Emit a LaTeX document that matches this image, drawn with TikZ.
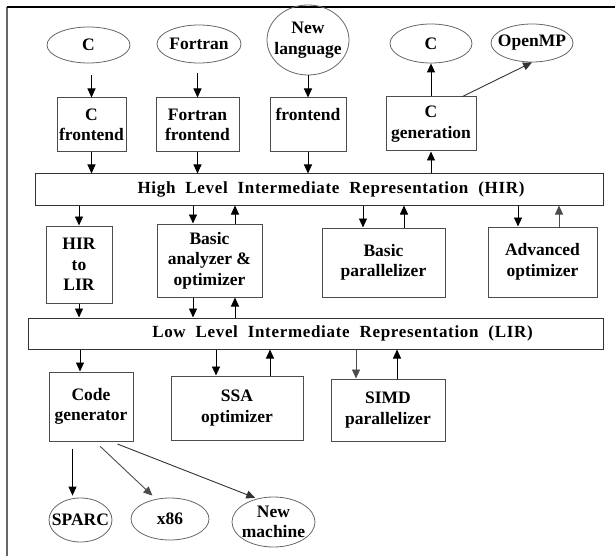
\documentclass[tikz,border=0pt]{standalone}
\usepackage{fontspec}
\setmainfont{Liberation Serif}
\newfontfamily\barfont[LetterSpace=4,WordSpace=2]{Liberation Serif}
\usetikzlibrary{arrows.meta,shapes.geometric}

\tikzset{
    box/.style={draw=black!70, line width=1pt, align=center, inner sep=0pt},
    lang/.style={draw=black!60, line width=0.8pt, ellipse, inner sep=0pt},
    bar/.style={draw=black!80, line width=1pt, inner sep=0pt, minimum height=31pt},
    bartext/.style={font=\barfont\bfseries\fontsize{17}{20}\selectfont},
    arr/.style={-{Triangle[length=9pt,width=8pt]}, line width=0.9pt},
}

\begin{document}
\begin{tikzpicture}[x=1pt, y=-1pt, font=\fontsize{17.5}{20.5}\selectfont\bfseries]
    \useasboundingbox (0,0) rectangle (615,556);
    % page frame
    \draw[black!60, line width=1.2pt] (7,556) -- (7,7);
    \draw[line width=1.2pt] (7,7) -- (615,7);

    % source languages and generated output
    \node[lang, minimum width=83pt, minimum height=36pt, label=center:C] (lc) at (88.5,45) {};
    \node[lang, minimum width=84pt, minimum height=38pt, label=center:Fortran] (lf) at (199,44) {};
    \node[lang, minimum width=82pt, minimum height=70pt, label={[align=center]center:New\\language}] (lnew) at (308,40) {};
    \node[lang, minimum width=82pt, minimum height=39pt, label=center:C] (outc) at (431,43.5) {};
    \node[lang, minimum width=82pt, minimum height=38pt, label=center:OpenMP] (omp) at (532,43) {};

    % frontends
    \node[box, minimum width=69pt, minimum height=54pt] (cfront) at (91.5,125) {C\\frontend};
    \node[box, minimum width=83pt, minimum height=54pt] (ffront) at (197.5,125) {Fortran\\frontend};
    \node[box, minimum width=76pt, minimum height=54pt] (nfront) at (308,125) {frontend\\\mbox{}};
    \node[box, minimum width=90pt, minimum height=54pt] (cgen) at (431,124) {C\\generation};

    % HIR
    \node[bar, minimum width=568pt, label={[bartext, xshift=12pt]center:High Level Intermediate Representation (HIR)}] (hir) at (319,189.5) {};

    \node[box, minimum width=66pt, minimum height=77pt] (h2l) at (79,264.5) {HIR\\to\\LIR};
    \node[box, minimum width=105pt, minimum height=73pt] (ana) at (209.5,260.5) {Basic\\analyzer \&\\optimizer};
    \node[box, minimum width=123pt, minimum height=69pt] (bpar) at (383.5,262.5) {Basic\\parallelizer};
    \node[box, minimum width=109pt, minimum height=70pt] (aopt) at (542.5,262) {Advanced\\optimizer};

    % LIR
    \node[bar, minimum width=575pt, label={[bartext, xshift=27pt]center:Low Level Intermediate Representation (LIR)}] (lir) at (315.5,333.5) {};

    \node[box, minimum width=84pt, minimum height=69pt] (cg) at (91,406.5) {Code\\generator};
    \node[box, minimum width=132pt, minimum height=64pt] (ssa) at (237,408) {SSA\\optimizer};
    \node[box, minimum width=114pt, minimum height=62pt] (simd) at (388,410) {SIMD\\parallelizer};

    % targets
    \node[lang, minimum width=63pt, minimum height=44pt, label=center:SPARC] (sparc) at (80.5,520) {};
    \node[lang, minimum width=78pt, minimum height=42pt, label=center:x86] (x86) at (170,519) {};
    \node[lang, minimum width=83pt, minimum height=50pt, label={[align=center]center:New\\machine}] (nmach) at (273.5,522) {};

    % frontend arrows
    \draw[arr, shorten <=12pt] (cfront.north |- lc.south) -- (cfront.north);
    \draw[arr, shorten <=10pt] (ffront.north |- lf.south) -- (ffront.north);
    \draw[arr] (nfront.north |- lnew.south) -- (nfront.north);
    \draw[arr] (cfront.south) -- (cfront.south |- hir.north);
    \draw[arr] (ffront.south) -- (ffront.south |- hir.north);
    \draw[arr] (nfront.south) -- (nfront.south |- hir.north);
    \draw[arr] (cgen.south |- hir.north) -- (cgen.south);
    \draw[arr] (cgen.north) -- (outc.south);
    \draw[arr, black!80] ([xshift=-14pt]cgen.north east) -- (omp.south);

    % HIR passes
    \draw[arr] (h2l.north |- hir.south) -- (h2l.north);
    \draw[arr] ([xshift=-16.5pt]ana.north |- hir.south) -- ([xshift=-16.5pt]ana.north);
    \draw[arr] ([xshift=25.5pt]ana.north) -- ([xshift=25.5pt]ana.north |- hir.south);
    \draw[arr] ([xshift=-20.5pt]bpar.north |- hir.south) -- ([xshift=-20.5pt]bpar.north);
    \draw[arr] ([xshift=20.5pt]bpar.north) -- ([xshift=20.5pt]bpar.north |- hir.south);
    \draw[arr] ([xshift=-24.5pt]aopt.north |- hir.south) -- ([xshift=-24.5pt]aopt.north);
    \draw[arr, black!70] ([xshift=16.5pt]aopt.north) -- ([xshift=16.5pt]aopt.north |- hir.south);
    \draw[arr] (h2l.south) -- (h2l.south |- lir.north);
    \draw[arr] ([xshift=-16.5pt]ana.south) -- ([xshift=-16.5pt]ana.south |- lir.north);
    \draw[arr] ([xshift=25.5pt]ana.south |- lir.north) -- ([xshift=25.5pt]ana.south);

    % LIR passes
    \draw[arr] ([xshift=-11pt]cg.north |- lir.south) -- ([xshift=-11pt]cg.north);
    \draw[arr] ([xshift=-21pt]ssa.north |- lir.south) -- ([xshift=-21pt]ssa.north);
    \draw[arr] ([xshift=33pt]ssa.north) -- ([xshift=33pt]ssa.north |- lir.south);
    \draw[arr, black!70] ([xshift=-32pt]simd.north |- lir.south) -- ([xshift=-32pt]simd.north);
    \draw[arr] ([xshift=9pt]simd.north) -- ([xshift=9pt]simd.north |- lir.south);

    % code generation
    \draw[arr, shorten <=7pt, shorten >=2pt] ([xshift=-8pt]sparc.north |- cg.south) -- ([xshift=-8pt]sparc.north);
    \draw[arr, black!70, shorten <=7pt, shorten >=5pt] ([xshift=4pt]cg.south) -- (x86.125);
    \draw[arr, black!80, shorten <=7pt, shorten >=2pt] ([xshift=20pt]cg.south) -- (nmach.125);
\end{tikzpicture}
\end{document}
